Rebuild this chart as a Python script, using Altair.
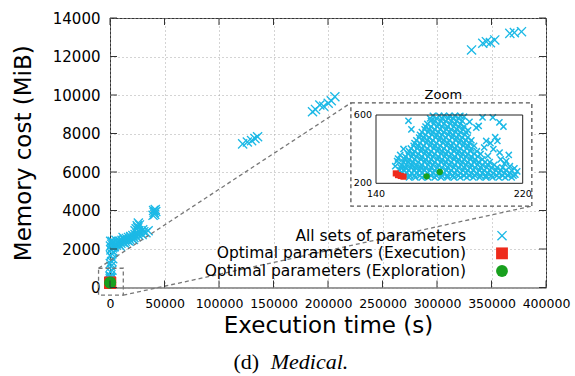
import altair as alt
import pandas as pd

# ---------------- data ----------------
SERIES = ["All sets of parameters", "Optimal parameters (Execution)",
          "Optimal parameters (Exploration)"]
COLORS = ["#1cb9e6", "#ee2b1c", "#18a01e"]

# all sets of parameters (execution time s, memory MiB) - main view
ALL_X = [121700, 126000, 129900, 133000, 135400,
         185800, 188500, 192500, 196000, 200200, 203000, 206300,
         331700, 342000, 345300, 349000, 353000, 366800, 371000, 377500,
         200, 300, 1200, 500, 1800, 800, 300, 1500, 2500, 600, 1800, 3200, 900, 2200, 400, 3500, 1500, 2800, 600,
         4000, 5000, 6000, 7000, 8000, 9000, 10000, 11000, 12000, 13000, 14000, 15000, 16000, 17000,
         18000, 19000, 20000, 21000, 22000, 23000, 24000, 25000, 26500, 28000, 29500, 31000, 33000, 35000,
         5500, 9500, 13500, 17500, 21500, 26000, 30000, 12000, 2000,
         24000, 25000, 26000, 27000, 25500, 23000,
         39500, 40500, 41500, 40000, 41000, 42000,
         160, 180, 200, 170]
ALL_Y = [7460, 7560, 7630, 7740, 7830,
         9130, 9250, 9480, 9420, 9570, 9700, 9910,
         12340, 12690, 12770, 12720, 12860, 13200, 13240, 13290,
         350, 600, 500, 800, 900, 1100, 1250, 1350, 1500, 1650, 1750, 1850, 1950, 2050, 2150, 2100, 2250, 2350, 2400,
         2150, 2300, 2200, 2350, 2250, 2400, 2300, 2450, 2350, 2500, 2400, 2550, 2450, 2600,
         2500, 2650, 2550, 2700, 2600, 2750, 2650, 2800, 2700, 2850, 2750, 2900, 2850, 2950,
         2450, 2150, 2300, 2400, 2500, 2950, 3000, 2600, 2400,
         3050, 3200, 3350, 3250, 3100, 2950,
         3750, 3900, 4050, 4000, 3800, 3950,
         300, 450, 550, 600]

EXEC_X = [150.8, 152.0, 153.5, 155.0]
EXEC_Y = [258, 248, 243, 239]
EXPL_X = [167.6, 174.8]
EXPL_Y = [241, 266]

# zoomed cloud: rows of memory level -> execution times
CLOUD_Y = [595, 580, 565, 548, 532, 516, 500, 484, 468, 452, 436, 420, 404, 388,
           372, 356, 340, 324, 308, 292, 276, 260, 245, 234]
CLOUD_X = [
    [171, 174.5, 177, 180, 183, 186],
    [169.5, 173, 176, 179.5, 182, 185],
    [170, 172, 175.5, 178, 181, 184, 187],
    [168, 171.5, 174, 177, 180.5, 183, 186],
    [167, 170, 173.5, 176, 179, 182.5, 185, 188],
    [166.5, 169, 172, 175, 178.5, 181, 184, 187.5],
    [165, 168.5, 171, 174, 177, 180, 183.5, 186, 189],
    [164, 167, 170.5, 173, 176, 179.5, 182, 185, 188.5],
    [163.5, 166, 169, 172.5, 175, 178, 181.5, 184, 187, 190],
    [162, 165.5, 168, 171, 174.5, 177, 180, 183.5, 186, 189, 192],
    [161, 164, 167.5, 170, 173, 176.5, 179, 182, 185.5, 188, 191],
    [160.5, 163, 166, 169.5, 172, 175, 178.5, 181, 184, 187.5, 190, 193.5],
    [159, 162.5, 165, 168, 171.5, 174, 177, 180.5, 183, 186, 189.5, 192],
    [158, 161, 164.5, 167, 170, 173.5, 176, 179, 182.5, 185, 188, 191.5, 195],
    [157.5, 160, 163, 166.5, 169, 172, 175.5, 178, 181, 184.5, 187, 190, 193.5, 197],
    [156, 159.5, 162, 165, 168.5, 171, 174, 177.5, 180, 183, 186.5, 189, 192, 195.5],
    [155.5, 158, 161, 164.5, 167, 170, 173.5, 176, 179, 182.5, 185, 188, 191.5, 194, 198],
    [155, 157.5, 160, 163, 166.5, 169, 172, 175.5, 178, 181, 184.5, 187, 190, 193.5, 196, 199.5, 202],
    [154, 156.5, 159.5, 162, 165, 168.5, 171, 174, 177.5, 180, 183, 186.5, 189, 192, 195.5, 198, 201, 204.5],
    [153.5, 156, 159, 161.5, 164.5, 167, 170, 173.5, 176, 179, 182.5, 185, 188, 191.5, 194, 197, 200.5, 203, 206, 209],
    [153, 155.5, 158, 161, 164, 166.5, 169.5, 172, 175, 178.5, 181, 184, 187.5, 190, 193, 196.5, 199, 202, 205.5, 208, 211],
    [154, 156.5, 159.5, 162, 165, 168, 171, 174, 177, 180, 183, 186, 189, 192, 195, 198, 201, 204, 207, 210, 213],
    [156, 158.5, 161, 164, 167, 170, 173, 176, 179, 182, 185, 188, 191, 194, 197, 200, 203, 206, 209, 212, 215],
    [158, 161.5, 165, 168.5, 172, 175.5, 179, 182.5, 186, 189.5, 193, 196.5, 200, 203.5, 207, 210.5, 214],
]
SPARSE_X = [157.7, 159.3, 155.0, 153.2, 151.5, 150.5, 152.0,
            198.1, 203.7, 207.3, 209.5, 194.7, 196.0, 190.2, 200.1, 202.4, 206.2, 207.4,
            212.4, 210.1, 215.5, 213.0, 205.0, 204.0, 199.0, 201.0, 208.0, 211.0, 214.0,
            217.0, 216.0, 191.0, 188.0]
SPARSE_Y = [566, 516, 401, 366, 330, 300, 345,
            586, 586, 557, 532, 526, 536, 510, 448, 435, 448, 380,
            366, 315, 288, 300, 470, 400, 410, 360, 340, 330, 275,
            270, 250, 560, 590]

XTICKS = [0, 50000, 100000, 150000, 200000, 250000, 300000, 350000, 400000]
YTICKS = [0, 2000, 4000, 6000, 8000, 10000, 12000, 14000]

# zoom box (around origin) and inset box, in main data units
ZOOM_BOX = {"x": -10500, "x2": 12200, "y": -400, "y2": 1000}
INSET_BOX = {"x": 221000, "x2": 387000, "y": 4230, "y2": 9590}
INSET_XDOM = [140, 220]
INSET_YDOM = [200, 600]

# ---------------- geometry ----------------
W, H = 436, 269.5
FONT = "DejaVu Sans"
X_PATH = ("M-0.85,-0.69L-0.69,-0.85L0,-0.16L0.69,-0.85L0.85,-0.69L0.16,0"
          "L0.85,0.69L0.69,0.85L0,0.16L-0.69,0.85L-0.85,0.69L-0.16,0Z")
X_PATH_SMALL = ("M-0.85,-0.6L-0.6,-0.85L0,-0.25L0.6,-0.85L0.85,-0.6L0.25,0"
                "L0.85,0.6L0.6,0.85L0,0.25L-0.6,0.85L-0.85,0.6L-0.25,0Z")

# ---------------- tables ----------------
main_df = pd.concat([
    pd.DataFrame({"x": ALL_X, "y": ALL_Y, "series": SERIES[0]}),
    pd.DataFrame({"x": EXEC_X, "y": EXEC_Y, "series": SERIES[1]}),
    pd.DataFrame({"x": EXPL_X, "y": EXPL_Y, "series": SERIES[2]}),
], ignore_index=True)

cx, cy = [], []
for yv, xs in zip(CLOUD_Y, CLOUD_X):
    for xv in xs:
        cx.append(xv)
        cy.append(yv)
cloud_df = pd.DataFrame({"x": cx + SPARSE_X, "y": cy + SPARSE_Y})
exec_df = pd.DataFrame({"x": EXEC_X, "y": EXEC_Y})
expl_df = pd.DataFrame({"x": EXPL_X, "y": EXPL_Y})
legend_df = pd.DataFrame({"series": SERIES})

xs_main = alt.Scale(domain=[0, 400000], nice=False, zero=False)
ys_main = alt.Scale(domain=[0, 14000], nice=False, zero=False)
color_scale = alt.Scale(domain=SERIES, range=COLORS)
shape_scale = alt.Scale(domain=SERIES, range=[X_PATH, "square", "circle"])

x_axis = alt.Axis(values=XTICKS, format="d", title="Execution time (s)", grid=True,
                  gridDash=[1, 3], gridColor="#a8a8a8", ticks=False, domain=False,
                  labelFontSize=12.5, labelPadding=10, titleFontSize=23, titlePadding=4,
                  labelFlush=False)
y_axis = alt.Axis(values=YTICKS, format="d", title="Memory cost (MiB)", grid=True,
                  gridDash=[1, 3], gridColor="#a8a8a8", ticks=False, domain=False,
                  labelFontSize=15, labelPadding=10, titleFontSize=23, titlePadding=17)


def MX(f):
    return alt.X(f, type="quantitative", scale=xs_main, axis=x_axis)


def MY(f):
    return alt.Y(f, type="quantitative", scale=ys_main, axis=y_axis)


points = alt.Chart(main_df).mark_point(filled=True, opacity=1, size=140, strokeWidth=0).encode(
    x=MX("x"), y=MY("y"),
    color=alt.Color("series:N", scale=color_scale, legend=None),
    shape=alt.Shape("series:N", scale=shape_scale, legend=None),
)

zoom_box = alt.Chart(pd.DataFrame([ZOOM_BOX])).mark_rect(
    fillOpacity=0, stroke="#777777", strokeWidth=1.3, strokeDash=[4, 3]
).encode(x=MX("x"), x2="x2", y=MY("y"), y2="y2")

links_df = pd.DataFrame({
    "x": [ZOOM_BOX["x"], ZOOM_BOX["x2"]],
    "y": [ZOOM_BOX["y2"], ZOOM_BOX["y"]],
    "x2": [INSET_BOX["x"], INSET_BOX["x2"]],
    "y2": [INSET_BOX["y2"], INSET_BOX["y"]],
})
links = alt.Chart(links_df).mark_rule(color="#777777", strokeWidth=1.3, strokeDash=[4, 3]).encode(
    x=MX("x"), x2="x2", y=MY("y"), y2="y2")

inset_bg = alt.Chart(pd.DataFrame([INSET_BOX])).mark_rect(
    fill="white", stroke="#555555", strokeWidth=1.3, strokeDash=[4, 3]
).encode(x=MX("x"), x2="x2", y=MY("y"), y2="y2")

xt = pd.DataFrame({"v": XTICKS})
yt = pd.DataFrame({"v": YTICKS})
tick_b = alt.Chart(xt).mark_rule(color="#333333").encode(x=MX("v"), y=alt.value(H), y2=alt.value(H - 7))
tick_t = alt.Chart(xt).mark_rule(color="#333333").encode(x=MX("v"), y=alt.value(0), y2=alt.value(7))
tick_l = alt.Chart(yt).mark_rule(color="#333333").encode(y=MY("v"), x=alt.value(0), x2=alt.value(7))
tick_r = alt.Chart(yt).mark_rule(color="#333333").encode(y=MY("v"), x=alt.value(W), x2=alt.value(W - 7))

one = pd.DataFrame({"t": [0]})
cap_d = alt.Chart(one).mark_text(text="(d)", font="Liberation Serif", fontSize=22,
                                 align="center", baseline="middle", color="black").encode(
    x=alt.value(136.3), y=alt.value(344))
cap_m = alt.Chart(one).mark_text(text="Medical.", font="Liberation Serif", fontSize=22,
                                 fontStyle="italic", align="left", baseline="middle",
                                 color="black").encode(x=alt.value(160.7), y=alt.value(344))

main_group = alt.layer(points, zoom_box, links, inset_bg, tick_b, tick_t, tick_l, tick_r,
                       cap_d, cap_m)

# ---------------- inset ----------------
ixs = alt.Scale(domain=INSET_XDOM, range=[266, 412.7], nice=False, zero=False)
iys = alt.Scale(domain=INSET_YDOM, range=[165.3, 97], nice=False, zero=False)


def IX(f):
    return alt.X(f, type="quantitative", scale=ixs, axis=None)


def IY(f):
    return alt.Y(f, type="quantitative", scale=iys, axis=None)


i_cloud = alt.Chart(cloud_df).mark_point(filled=True, opacity=1, size=72, strokeWidth=0,
                                         shape=X_PATH_SMALL, color=COLORS[0]).encode(
    x=IX("x"), y=IY("y"))
i_exec = alt.Chart(exec_df).mark_point(filled=True, opacity=1, size=38, strokeWidth=0,
                                       shape="square", color=COLORS[1]).encode(
    x=IX("x"), y=IY("y"))
i_expl = alt.Chart(expl_df).mark_point(filled=True, opacity=1, size=40, strokeWidth=0,
                                       shape="circle", color=COLORS[2]).encode(
    x=IX("x"), y=IY("y"))
frame_df = pd.DataFrame({"x": [INSET_XDOM[0]], "x2": [INSET_XDOM[1]],
                         "y": [INSET_YDOM[0]], "y2": [INSET_YDOM[1]]})
i_frame = alt.Chart(frame_df).mark_rect(fillOpacity=0, stroke="#222222", strokeWidth=1).encode(
    x=IX("x"), x2="x2", y=IY("y"), y2="y2")

ylab_df = pd.DataFrame({"x": [140, 140], "y": [600, 200], "t": ["600", "200"]})
xlab_df = pd.DataFrame({"x": [140, 220], "y": [200, 200], "t": ["140", "220"]})
i_ylab = alt.Chart(ylab_df).mark_text(font=FONT, fontSize=9.5, align="right", baseline="middle",
                                      dx=-4, color="black").encode(x=IX("x"), y=IY("y"), text="t:N")
i_xlab = alt.Chart(xlab_df).mark_text(font=FONT, fontSize=9.5, align="center", baseline="middle",
                                      dy=11, color="black").encode(x=IX("x"), y=IY("y"), text="t:N")
title_df = pd.DataFrame({"x": [180], "y": [600], "t": ["Zoom"]})
i_title = alt.Chart(title_df).mark_text(font=FONT, fontSize=13, align="center", baseline="middle",
                                        dy=-20, dx=-6, color="black").encode(
    x=IX("x"), y=IY("y"), text="t:N")

inset_group = alt.layer(i_cloud, i_exec, i_expl, i_frame, i_ylab, i_xlab, i_title)

# ---------------- legend (drawn inside the plot, labels left of symbols) ----------------
leg_y = alt.Y("series:N", scale=alt.Scale(type="point", domain=SERIES, range=[217.7, 253], padding=0),
              axis=None)
leg_sym = alt.Chart(legend_df).mark_point(filled=True, opacity=1, size=140, strokeWidth=0).encode(
    x=alt.value(392), y=leg_y,
    color=alt.Color("series:N", scale=color_scale, legend=None),
    shape=alt.Shape("series:N", scale=shape_scale, legend=None),
)
leg_txt = alt.Chart(legend_df).mark_text(font=FONT, fontSize=15.5, align="right",
                                         baseline="middle", color="black").encode(
    x=alt.value(356), y=leg_y, text="series:N")
legend_group = alt.layer(leg_sym, leg_txt)

chart = alt.layer(main_group, inset_group, legend_group).resolve_scale(
    x="independent", y="independent"
).properties(
    width=W, height=H,
    autosize=alt.AutoSizeParams(type="none"),
    padding={"left": 110, "top": 18, "right": 29, "bottom": 88.5},
).configure_view(stroke="#333333", strokeWidth=1).configure_axis(
    labelFont=FONT, titleFont=FONT, titleFontWeight="normal",
    labelColor="black", titleColor="black",
).configure_text(font=FONT)

chart.save("out.html", embed_options={"renderer": "svg", "actions": False})
